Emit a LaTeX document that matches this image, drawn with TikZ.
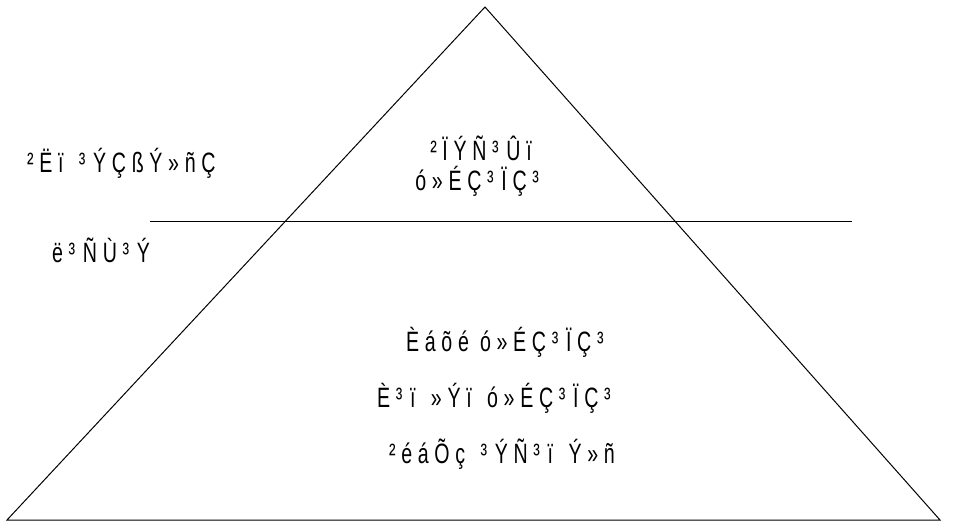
\documentclass[tikz,border=0pt]{standalone}
\usepackage{fontspec}
\setmainfont{Liberation Sans}
\newfontfamily\pyrfont[LetterSpace=29]{Liberation Sans}
\newcommand\ath{³\kern11pt}
\newcommand\gap{\hspace{22pt}}
\usetikzlibrary{positioning}

\begin{document}
\begin{tikzpicture}[x=1pt,y=-1pt, every node/.style={font=\pyrfont\fontsize{28}{32}\selectfont,inner sep=0pt}, lbl/.style={xscale=0.7,align=center}]
\useasboundingbox (0,0) rectangle (953,529);
\coordinate (top) at (485,7);
\coordinate (bl) at (7,520);
\coordinate (br) at (940,520);
\draw[line width=1pt] (top)--(br)--(bl)--cycle;
\coordinate (cutl) at (150,222);
\coordinate (cutr) at (852,222);
\draw[line width=1pt] (cutl)--(cutr);
\node[lbl,anchor=west] (sympt) at (27,163) {²Ëï\gap\ath ÝÇßÝ»ñÇ};
\node[lbl,anchor=west] (thresh) at (52,250) {ë\ath ÑÙ\ath Ý};
\node[lbl] (overt) at (481,148) {²ÏÝÑ\ath Ûï};
\node[lbl,below=5pt of overt] (overtb) {ó»ÉÇ\ath ÏÇ\ath};
\node[lbl,anchor=west] (silent) at (406,342) {Èáõé ó»ÉÇ\ath ÏÇ\ath};
\node[lbl,anchor=west] (latent) at (377,398) {È\ath ï\gap»Ýï\gap ó»ÉÇ\ath ÏÇ\ath};
\node[lbl,anchor=west] (healthy) at (389,454) {²éáÕç\gap\ath ÝÑ\ath ï\gap Ý»ñ};
\end{tikzpicture}
\end{document}
